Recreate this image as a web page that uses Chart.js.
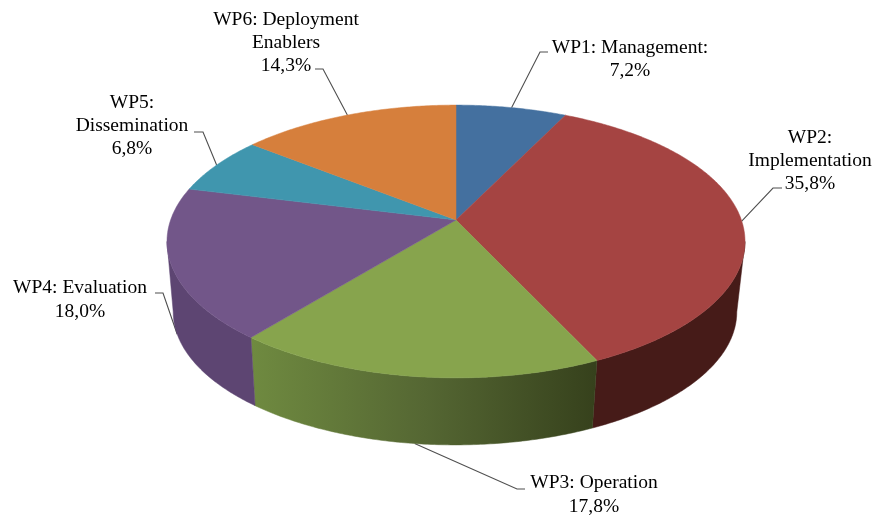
<!DOCTYPE html>
<html>
<head>
<meta charset="utf-8">
<title>Effort per work package</title>
<style>
    html, body { margin: 0; padding: 0; background: #fff; }
    canvas { display: block; filter: blur(0.35px); }
</style>
<script src="https://cdn.jsdelivr.net/npm/chart.js@4"></script>
</head>
<body>
<canvas id="effortChart" width="875" height="515"></canvas>
<script>
// Values
const categories = ['WP1: Management:', 'WP2: Implementation', 'WP3: Operation', 'WP4: Evaluation', 'WP5: Dissemination', 'WP6: Deployment Enablers'];
const shares = [7.2, 35.8, 17.8, 18.0, 6.8, 14.3];

const labelLines = [
    ['WP1: Management:'],
    ['WP2:', 'Implementation'],
    ['WP3: Operation'],
    ['WP4: Evaluation'],
    ['WP5:', 'Dissemination'],
    ['WP6: Deployment', 'Enablers']
];

const topColors = ['#44709f', '#a54442', '#87a44d', '#725689', '#4096ae', '#d67f3c'];

// Where each label sits: centre x, first baseline, line height, leader elbow and stub end
const labelLayout = [
    { x: 630, y: 53, lh: 23, elbow: [540, 52], stub: [548, 52] },
    { x: 810, y: 143, lh: 23, elbow: [773, 188], stub: [782, 188] },
    { x: 594, y: 488, lh: 24, elbow: [517, 489], stub: [525, 489], onBottom: true },
    { x: 80, y: 293, lh: 24, elbow: [163, 293], stub: [155, 293], onBottom: true },
    { x: 132, y: 108, lh: 23, elbow: [203, 132], stub: [194, 132] },
    { x: 286, y: 25, lh: 23, elbow: [323, 69], stub: [315, 69] }
];

// The disc is tilted in perspective, so the apex is not the centre of the ellipse
const disc = { cx: 456, cy: 220, c: 285.4, a: 133, k: -0.1575 };
const rim = { dx: -1, dy: 71, scale: 0.975 };

function project(angle, lower) {
    const u = Math.cos(angle);
    const v = Math.sin(angle);
    const d = 1 + disc.k * v;
    const s = lower ? rim.scale : 1;
    return {
        x: disc.cx + (lower ? rim.dx : 0) + s * disc.c * u / d,
        y: disc.cy + (lower ? rim.dy : 0) + s * disc.a * v / d
    };
}

function arcPoints(start, end, lower) {
    const steps = Math.max(2, Math.ceil(Math.abs(end - start) / 0.01));
    const pts = [];
    for (let i = 0; i <= steps; i++) {
        pts.push(project(start + (end - start) * i / steps, lower));
    }
    return pts;
}

function wallFill(ctx, index) {
    if (index === 2) {
        const g = ctx.createLinearGradient(252, 0, 596, 0);
        g.addColorStop(0, '#6f8a40');
        g.addColorStop(0.5, '#556733');
        g.addColorStop(1, '#36411c');
        return g;
    }
    return index === 1 ? '#461b18' : '#5d4572';
}

const perspectivePie = {
    id: 'perspectivePie',
    beforeDatasetDraw(chart) {
        const ctx = chart.ctx;
        const arcs = chart.getDatasetMeta(0).data;

        ctx.save();

        // Leaders go first so the walls hide their ends
        arcs.forEach((arc, i) => {
            const mid = (arc.startAngle + arc.endAngle) / 2;
            const layout = labelLayout[i];
            const anchor = project(mid, layout.onBottom);
            ctx.beginPath();
            ctx.moveTo(anchor.x, anchor.y);
            ctx.lineTo(layout.elbow[0], layout.elbow[1]);
            ctx.lineTo(layout.stub[0], layout.stub[1]);
            ctx.strokeStyle = '#4f4f4f';
            ctx.lineWidth = 1.1;
            ctx.stroke();
        });

        // Side walls run between the two points where the rim turns back
        const turn = Math.asin(-disc.k);
        const wallStart = turn;
        const wallEnd = Math.PI - turn;
        arcs.forEach((arc, i) => {
            const start = Math.max(arc.startAngle, wallStart);
            const end = Math.min(arc.endAngle, wallEnd);
            if (end <= start) return;
            const pts = arcPoints(start, end, false).concat(arcPoints(end, start, true));
            ctx.beginPath();
            pts.forEach((p, n) => n ? ctx.lineTo(p.x, p.y) : ctx.moveTo(p.x, p.y));
            ctx.closePath();
            ctx.fillStyle = wallFill(ctx, i);
            ctx.strokeStyle = ctx.fillStyle;
            ctx.lineWidth = 0.5;
            ctx.fill();
            ctx.stroke();
        });

        // Top face
        arcs.forEach((arc, i) => {
            ctx.beginPath();
            ctx.moveTo(disc.cx, disc.cy);
            arcPoints(arc.startAngle, arc.endAngle, false).forEach(p => ctx.lineTo(p.x, p.y));
            ctx.closePath();
            ctx.fillStyle = topColors[i];
            ctx.strokeStyle = topColors[i];
            ctx.lineWidth = 0.5;
            ctx.fill();
            ctx.stroke();
        });

        // Labels
        ctx.font = '19.5px "Liberation Serif"';
        ctx.fillStyle = '#000';
        ctx.textAlign = 'center';
        ctx.textBaseline = 'alphabetic';
        arcs.forEach((arc, i) => {
            const layout = labelLayout[i];
            const lines = labelLines[i].concat(shares[i].toFixed(1).replace('.', ',') + '%');
            lines.forEach((line, n) => ctx.fillText(line, layout.x, layout.y + n * layout.lh));
        });

        ctx.restore();
        return false; // the library's flat arcs are replaced by the above
    }
};

document.addEventListener('DOMContentLoaded', () => {
    new Chart(document.getElementById('effortChart').getContext('2d'), {
        type: 'pie',
        data: {
            labels: categories,
            datasets: [{ data: shares, backgroundColor: topColors }]
        },
        options: {
            responsive: false,
            animation: false,
            plugins: {
                legend: { display: false },
                tooltip: { enabled: false }
            }
        },
        plugins: [perspectivePie]
    });
});
</script>
</body>
</html>
